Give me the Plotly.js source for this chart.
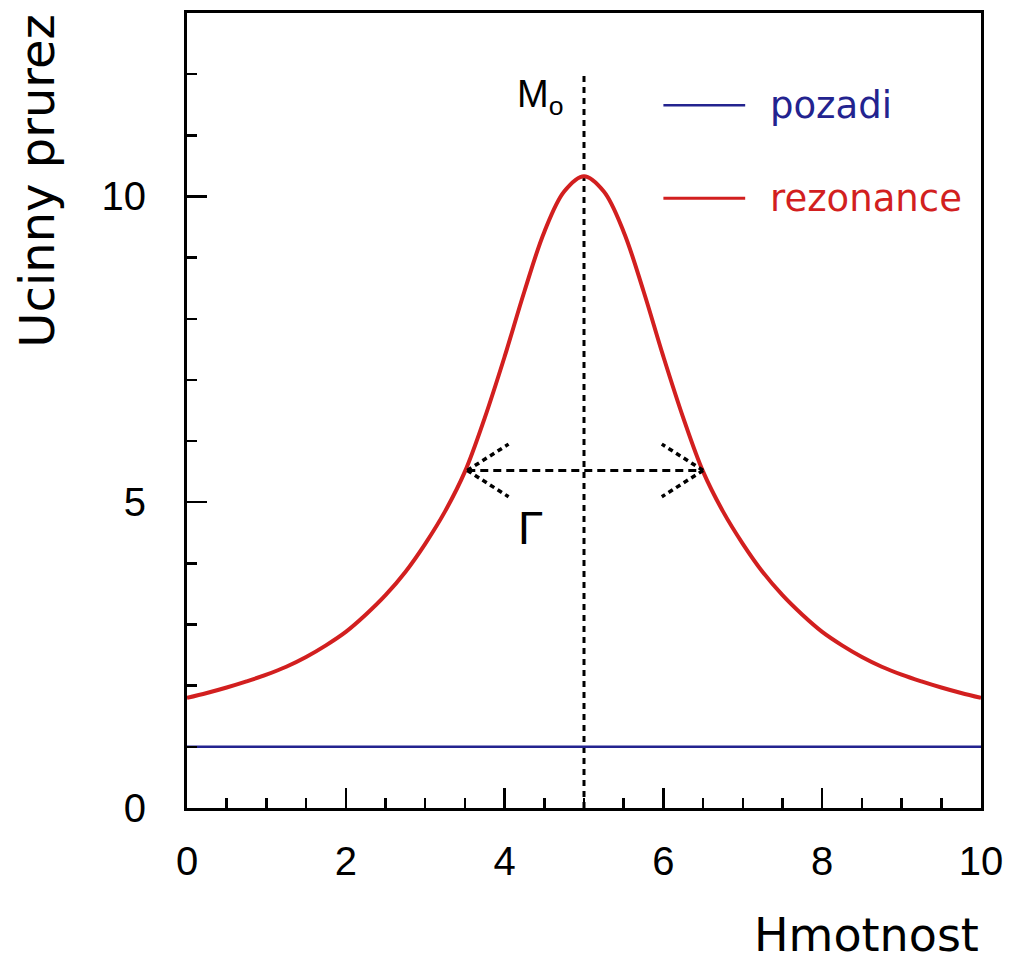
<!DOCTYPE html>
<html>
<head>
<meta charset="utf-8">
<script src="https://cdn.plot.ly/plotly-3.0.1.min.js"></script>
<style>
html,body{margin:0;padding:0;background:#fff;}
#chart{width:1011px;height:962px;}
</style>
</head>
<body>
<div id="chart"></div>
<script>
// ---- data ----
var massX = [0,0.25,0.5,0.75,1,1.25,1.5,1.75,2,2.25,2.5,2.75,3,3.25,3.5,3.75,4,4.25,4.5,4.75,5,
             5.25,5.5,5.75,6,6.25,6.5,6.75,7,7.25,7.5,7.75,8,8.25,8.5,8.75,9,9.25,9.5,9.75,10];
var resonance = [1.80,1.88,1.97,2.07,2.18,2.31,2.47,2.66,2.88,3.16,3.48,3.86,4.32,4.85,5.50,6.38,7.38,8.45,9.42,10.08,10.33,
                 10.08,9.42,8.45,7.38,6.38,5.50,4.85,4.32,3.86,3.48,3.16,2.88,2.66,2.47,2.31,2.18,2.07,1.97,1.88,1.80];
var bgX = [0, 10];
var background = [1.0, 1.0];
var xTicks = [0, 2, 4, 6, 8, 10];
var yTicks = [0, 5, 10];
var seriesNames = ["pozadi", "rezonance"];
var M0 = 5.0;            // resonance mass
var M0top = 12.0;        // top of the dotted M0 line
var gammaLevel = 5.52;   // height of the width arrow
var gammaLeft = 3.53;    // left end of the width arrow
var gammaRight = 6.50;   // right end of the width arrow
var headDx = 0.52, headDy = 0.43;

var blue = "#23238f", red = "#d21f1f";

var traces = [
  {x: bgX, y: background, mode: "lines", name: seriesNames[0],
   line: {color: blue, width: 2.5}, showlegend: false, hoverinfo: "skip"},
  {x: massX, y: resonance, mode: "lines", name: seriesNames[1],
   line: {color: red, width: 4, shape: "spline", smoothing: 1}, showlegend: false, hoverinfo: "skip"}
];

var dashArrow = {color: "black", width: 3, dash: "8px,5px"};
var dotLine = {color: "black", width: 3, dash: "6px,5px"};
var headLine = {color: "black", width: 3.5, dash: "5px,4px"};
var shapes = [
  {type: "line", xref: "x", yref: "y", x0: M0, x1: M0, y0: 0, y1: M0top, line: dotLine, layer: "below"},
  {type: "line", xref: "x", yref: "y", x0: gammaLeft, x1: gammaRight, y0: gammaLevel, y1: gammaLevel, line: dashArrow},
  {type: "line", xref: "x", yref: "y", x0: gammaLeft, x1: gammaLeft + headDx, y0: gammaLevel, y1: gammaLevel + headDy, line: headLine},
  {type: "line", xref: "x", yref: "y", x0: gammaLeft, x1: gammaLeft + headDx, y0: gammaLevel, y1: gammaLevel - headDy, line: headLine},
  {type: "line", xref: "x", yref: "y", x0: gammaRight, x1: gammaRight - headDx, y0: gammaLevel, y1: gammaLevel + headDy, line: headLine},
  {type: "line", xref: "x", yref: "y", x0: gammaRight, x1: gammaRight - headDx, y0: gammaLevel, y1: gammaLevel - headDy, line: headLine},
  // custom legend samples
  {type: "line", xref: "paper", yref: "paper", x0: 0.600, x1: 0.703, y0: 0.884, y1: 0.884, line: {color: blue, width: 2.5}},
  {type: "line", xref: "paper", yref: "paper", x0: 0.600, x1: 0.703, y0: 0.767, y1: 0.767, line: {color: red, width: 3}}
];

var annotations = [
  {xref: "paper", yref: "paper", x: 0.732, y: 0.884, xanchor: "left", yanchor: "middle", showarrow: false,
   text: seriesNames[0], font: {family: "DejaVu Sans, sans-serif", size: 37, color: blue}},
  {xref: "paper", yref: "paper", x: 0.732, y: 0.767, xanchor: "left", yanchor: "middle", showarrow: false,
   text: seriesNames[1], font: {family: "DejaVu Sans, sans-serif", size: 37, color: red}},
  {xref: "x", yref: "y", x: 4.45, y: 11.62, xanchor: "center", yanchor: "middle", showarrow: false,
   text: "M<sub>o</sub>", font: {family: "Liberation Sans, Arial, sans-serif", size: 38, color: "black"}},
  {xref: "x", yref: "y", x: 4.32, y: 4.58, xanchor: "center", yanchor: "middle", showarrow: false,
   text: "Γ", font: {family: "Liberation Sans, Arial, sans-serif", size: 46, color: "black"}},
  {xref: "paper", yref: "paper", x: 1.0, y: -0.16, xanchor: "right", yanchor: "middle", showarrow: false,
   text: "Hmotnost", font: {family: "DejaVu Sans, sans-serif", size: 46, color: "black"}},
  {xref: "paper", yref: "paper", x: -0.19, y: 1.0, xanchor: "center", yanchor: "top", textangle: -90, showarrow: false,
   text: "Ucinny prurez", font: {family: "DejaVu Sans, sans-serif", size: 48, color: "black"}}
];

var layout = {
  width: 1011, height: 962,
  margin: {l: 187, r: 30, t: 13, b: 154, pad: 0},
  paper_bgcolor: "white", plot_bgcolor: "white",
  showlegend: false,
  font: {family: "Liberation Sans, Arial, sans-serif", color: "black"},
  xaxis: {
    range: [0, 10], tickmode: "array", tickvals: xTicks, ticktext: xTicks.map(String),
    ticks: "inside", ticklen: 20, tickwidth: 2.5, tickcolor: "black",
    minor: {dtick: 0.5, tick0: 0, ticks: "inside", ticklen: 10, tickwidth: 2.5, tickcolor: "black"},
    showline: true, linewidth: 3, linecolor: "black", mirror: true,
    showgrid: false, zeroline: false,
    tickfont: {size: 40, family: "Liberation Sans, Arial, sans-serif", color: "black"},
    ticklabelstandoff: 16
  },
  yaxis: {
    range: [0, 13], tickmode: "array", tickvals: yTicks, ticktext: yTicks.map(String),
    ticks: "inside", ticklen: 20, tickwidth: 2.5, tickcolor: "black",
    minor: {dtick: 1, tick0: 0, ticks: "inside", ticklen: 10, tickwidth: 2.5, tickcolor: "black"},
    showline: true, linewidth: 3, linecolor: "black", mirror: true,
    showgrid: false, zeroline: false,
    tickfont: {size: 40, family: "Liberation Sans, Arial, sans-serif", color: "black"},
    ticklabelstandoff: 30
  },
  shapes: shapes,
  annotations: annotations
};

Plotly.newPlot("chart", traces, layout, {displayModeBar: false, staticPlot: true});
</script>
</body>
</html>
